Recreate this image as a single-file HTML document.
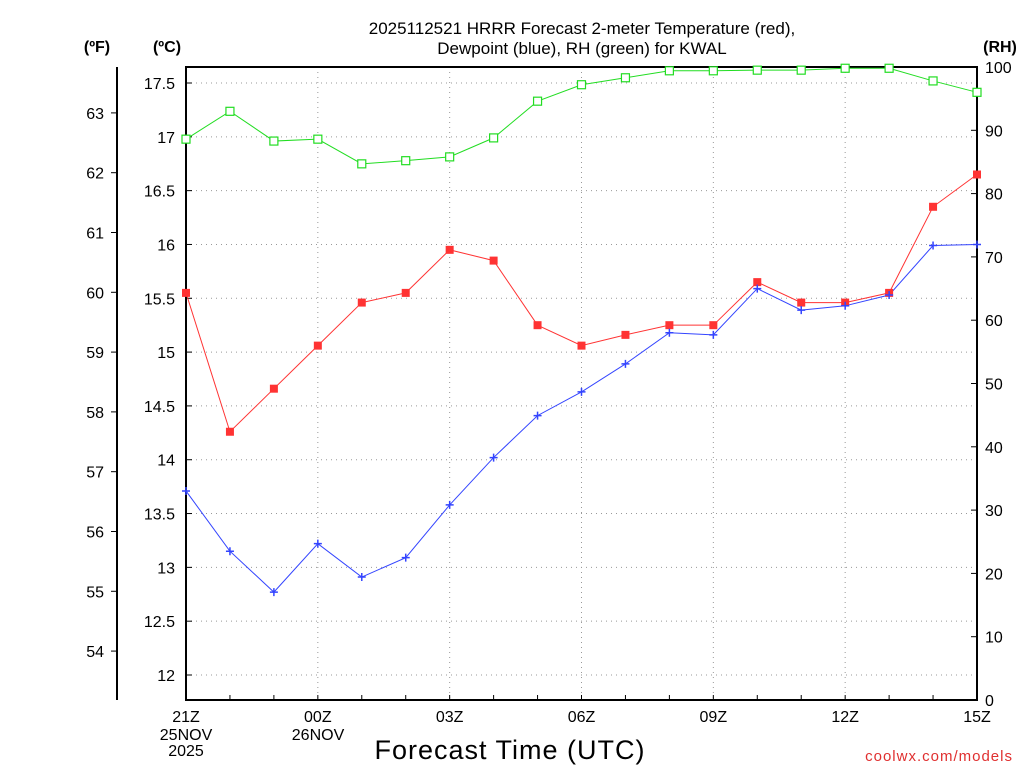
<!DOCTYPE html>
<html><head><meta charset="utf-8"><style>
html,body{margin:0;padding:0;background:#fff;}
svg{display:block;font-family:"Liberation Sans","DejaVu Sans",sans-serif;}
</style></head><body>
<svg id="chart" width="1024" height="768"></svg>
<script>
const hours = ["21Z","22Z","23Z","00Z","01Z","02Z","03Z","04Z","05Z","06Z","07Z","08Z","09Z","10Z","11Z","12Z","13Z","14Z","15Z"];
const tempC = [15.55,14.26,14.66,15.06,15.46,15.55,15.95,15.85,15.25,15.06,15.16,15.25,15.25,15.65,15.46,15.46,15.55,16.35,16.65];
const dewC = [13.71,13.15,12.77,13.22,12.91,13.09,13.58,14.02,14.41,14.63,14.89,15.18,15.16,15.59,15.39,15.43,15.53,15.99,16.00];
const rh = [88.6,93.0,88.3,88.6,84.7,85.2,85.8,88.8,94.6,97.2,98.3,99.4,99.4,99.5,99.5,99.8,99.8,97.8,96.0];
const cTicks = [12,12.5,13,13.5,14,14.5,15,15.5,16,16.5,17,17.5];
const fTicks = [54,55,56,57,58,59,60,61,62,63];
const rhTicks = [0,10,20,30,40,50,60,70,80,90,100];
const xLabelIdx = [0,3,6,9,12,15,18];
const xLabels = ["21Z","00Z","03Z","06Z","09Z","12Z","15Z"];

const L=186,R=977,T=67,B=700;
const xs=i=>L+i*(R-L)/(hours.length-1);
const yC=c=>83+(17.5-c)*(592/5.5);
const yF=f=>yC((f-32)/1.8);
const yR=r=>B-r*(B-T)/100;
const svg=document.getElementById('chart');
const NS='http://www.w3.org/2000/svg';
function mk(tag,attrs,name,text){const e=document.createElementNS(NS,tag);for(const k in attrs)e.setAttribute(k,attrs[k]);


if(text!==undefined)e.textContent=text;svg.appendChild(e);return e;}

// grid
cTicks.forEach(c=>{mk('line',{x1:L,x2:R,y1:yC(c),y2:yC(c),stroke:'#999','stroke-dasharray':'1,4'},'grid-line-h');});
xLabelIdx.slice(1,-1).forEach(i=>{mk('line',{x1:xs(i),x2:xs(i),y1:T,y2:B,stroke:'#999','stroke-dasharray':'1,4'},'grid-line-v');});
// frame
mk('rect',{x:L,y:T,width:R-L,height:B-T,fill:'none',stroke:'#000','stroke-width':2},'plot-frame');
mk('line',{x1:117,x2:117,y1:T,y2:B,stroke:'#000','stroke-width':2},'fahrenheit-axis-line');
// ticks/labels
cTicks.forEach(c=>{mk('line',{x1:L,x2:L+6,y1:yC(c),y2:yC(c),stroke:'#000'},'c-tick');
mk('text',{x:175,y:yC(c)+6,'text-anchor':'end','font-size':16},'c-tick-label',String(c));});
fTicks.forEach(f=>{mk('line',{x1:117,x2:111,y1:yF(f),y2:yF(f),stroke:'#000'},'f-tick');
mk('text',{x:104,y:yF(f)+6,'text-anchor':'end','font-size':16},'f-tick-label',String(f));});
rhTicks.forEach(r=>{mk('line',{x1:R,x2:R-6,y1:yR(r),y2:yR(r),stroke:'#000'},'rh-tick');
mk('text',{x:985,y:yR(r)+6,'text-anchor':'start','font-size':16},'rh-tick-label',String(r));});
hours.forEach((h,i)=>{mk('line',{x1:xs(i),x2:xs(i),y1:B,y2:B-5,stroke:'#000'},'x-tick');});
xLabelIdx.forEach((i,k)=>{mk('text',{x:xs(i),y:722,'text-anchor':'middle','font-size':16},'x-tick-label',xLabels[k]);});
mk('text',{x:186,y:740,'text-anchor':'middle','font-size':16},'x-date-label','25NOV');
mk('text',{x:186,y:756,'text-anchor':'middle','font-size':16},'x-year-label','2025');
mk('text',{x:318,y:740,'text-anchor':'middle','font-size':16},'x-date-label','26NOV');
mk('text',{x:510,y:759,'text-anchor':'middle','font-size':27,'letter-spacing':1},'x-axis-title','Forecast Time (UTC)');
mk('text',{x:1013,y:761,'text-anchor':'end','font-size':15,fill:'#e03030','letter-spacing':1},'source-credit','coolwx.com/models');
mk('text',{x:582,y:34,'text-anchor':'middle','font-size':17},'chart-title','2025112521 HRRR Forecast 2-meter Temperature (red),');
mk('text',{x:582,y:54,'text-anchor':'middle','font-size':17},'chart-title','Dewpoint (blue), RH (green) for KWAL');
mk('text',{x:97,y:52,'text-anchor':'middle','font-size':16,'font-weight':'bold'},'f-axis-title','(ºF)');
mk('text',{x:167,y:52,'text-anchor':'middle','font-size':16,'font-weight':'bold'},'c-axis-title','(ºC)');
mk('text',{x:1000,y:52,'text-anchor':'middle','font-size':16,'font-weight':'bold'},'rh-axis-title','(RH)');

function line(vals,fy,col,name){mk('polyline',{points:vals.map((v,i)=>xs(i)+','+fy(v)).join(' '),fill:'none',stroke:col,'stroke-width':1},name);}
line(rh,yR,'#22dd22','rh-line');
line(tempC,yC,'#ff3333','temperature-line');
line(dewC,yC,'#3344ff','dewpoint-line');
rh.forEach((v,i)=>{mk('rect',{x:xs(i)-4,y:yR(v)-4,width:8,height:8,fill:'#fff',stroke:'#22dd22','stroke-width':1.2},'rh-point');});
tempC.forEach((v,i)=>{mk('rect',{x:xs(i)-4,y:yC(v)-4,width:8,height:8,fill:'#ff3333'},'temperature-point');});
dewC.forEach((v,i)=>{const x=xs(i),y=yC(v);
mk('path',{d:`M${x-4},${y}H${x+4}M${x},${y-4}V${y+4}`,stroke:'#3344ff','stroke-width':1.5},'dewpoint-point');});
</script>
</body></html>
